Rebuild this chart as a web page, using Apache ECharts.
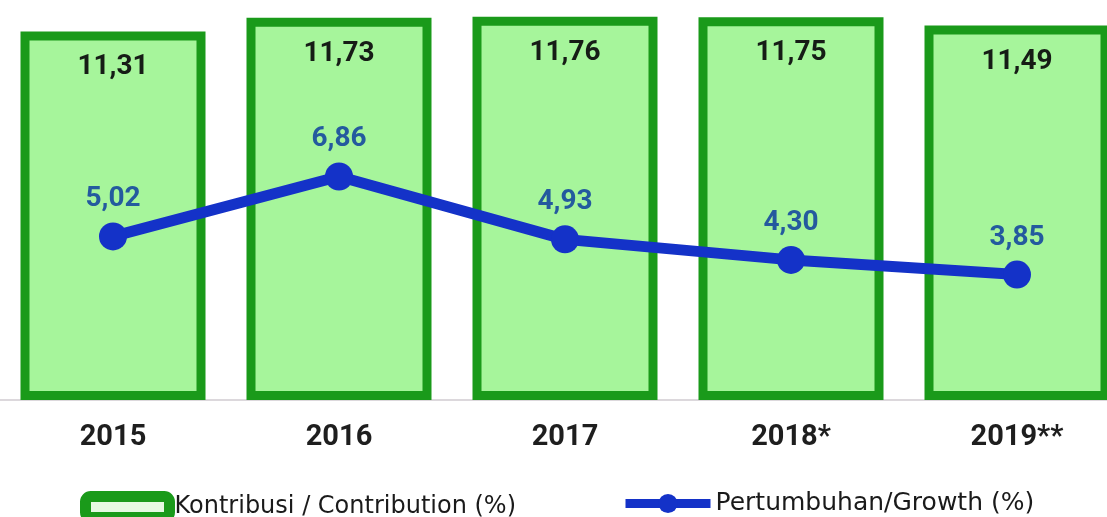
<!DOCTYPE html>
<html>
<head>
<meta charset="utf-8">
<script src="https://cdn.jsdelivr.net/npm/echarts@6/dist/echarts.min.js"></script>
<style>
html,body{margin:0;padding:0;background:#fff;}
#c{width:1107px;height:517px;}
</style>
</head>
<body>
<div id="c"></div>
<script>
const categories = ['2015', '2016', '2017', '2018*', '2019**'];
const contribution = [11.31, 11.73, 11.76, 11.75, 11.49];
const growth = [5.02, 6.86, 4.93, 4.30, 3.85];
const barName = 'Kontribusi / Contribution (%)';
const lineName = 'Pertumbuhan/Growth (%)';

const fmt = v => v.toFixed(2).replace('.', ',');
const narrow = "Roboto, 'DejaVu Sans Condensed', sans-serif";

const chart = echarts.init(document.getElementById('c'), null, {renderer: 'canvas'});
chart.setOption({
  animation: false,
  backgroundColor: '#ffffff',
  grid: {left: 0, right: -23, top: 9, bottom: 117, containLabel: false, outerBoundsMode: 'none'},
  legend: [
    {
      data: [barName], left: 75, top: 486, itemWidth: 84, itemHeight: 21, itemGap: 5,
      icon: 'roundRect',
      itemStyle: {color: '#e6fae2', borderColor: '#1a9a1a', borderWidth: 11},
      textStyle: {fontFamily: 'DejaVu Sans', fontSize: 24, color: '#1a1a1a'}
    },
    {
      data: [lineName], left: 616, top: 486, itemWidth: 85, itemHeight: 24,
      lineStyle: {width: 9, color: '#1432c8'},
      itemStyle: {color: '#1432c8'},
      textStyle: {fontFamily: 'DejaVu Sans', fontSize: 25, color: '#1a1a1a'}
    }
  ],
  xAxis: {
    type: 'category',
    data: categories,
    axisLine: {show: true, lineStyle: {color: '#dcd8dc', width: 2}},
    axisTick: {show: false},
    axisLabel: {
      margin: 23, color: '#1e1e1e', fontFamily: narrow, fontWeight: 'bold', fontSize: 29
    }
  },
  yAxis: {
    type: 'value', min: 0, max: 12, show: false, splitLine: {show: false}
  },
  series: [
    {
      name: barName,
      type: 'bar',
      data: contribution,
      barWidth: 185,
      itemStyle: {color: '#a6f59b', borderColor: '#1a9a1a', borderWidth: 9},
      label: {
        show: true, position: 'insideTop', distance: 22,
        formatter: p => fmt(p.value),
        color: '#161c16', fontFamily: narrow, fontWeight: 'bold', fontSize: 28
      },
      z: 1
    },
    {
      name: lineName,
      type: 'line',
      data: growth,
      symbol: 'circle',
      symbolSize: 28,
      lineStyle: {color: '#1432c8', width: 11},
      itemStyle: {color: '#1432c8'},
      label: {
        show: true, position: 'top', distance: 9,
        formatter: p => fmt(p.value),
        color: '#245a9e', fontFamily: narrow, fontWeight: 'bold', fontSize: 28
      },
      z: 3
    }
  ]
});
</script>
</body>
</html>
